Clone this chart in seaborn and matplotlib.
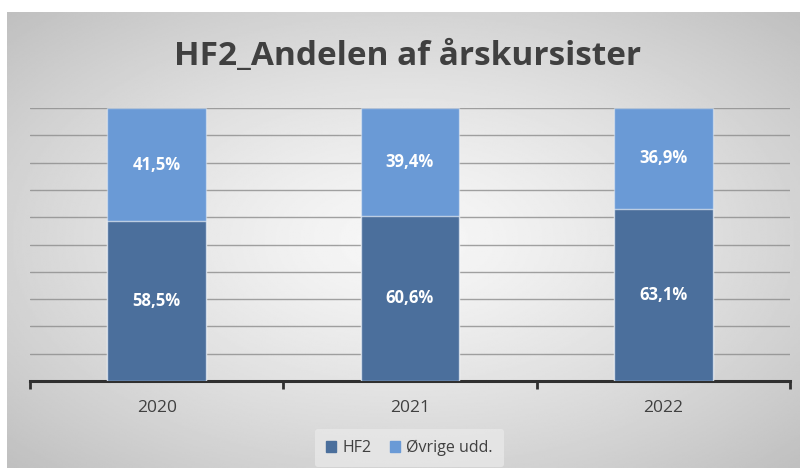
import numpy as np
import pandas as pd
import matplotlib
matplotlib.use("Agg")
import matplotlib.pyplot as plt
import seaborn as sns

# data
years = ["2020", "2021", "2022"]
hf2_share = [58.5, 60.6, 63.1]
other_share = [41.5, 39.4, 36.9]

title = "HF2_Andelen af årskursister"
dark_blue = "#4b6f9c"
light_blue = "#6a9ad6"
text_gray = "#404040"

df = pd.DataFrame({
    "År": years,
    "HF2": hf2_share,
    "Øvrige": other_share,
})
df["Total"] = df["HF2"] + df["Øvrige"]

sns.set_theme(style="white")
plt.rcParams["font.family"] = ["Open Sans", "DejaVu Sans"]

fig = plt.figure(figsize=(8, 4.68), dpi=100)

# radial grey background like the Excel chart area
bg = fig.add_axes([7 / 800, 0, 1 - 7 / 800, 1 - 12 / 468], zorder=-2)
yy, xx = np.mgrid[-1:1:300j, -1:1:500j]
r = np.sqrt(xx ** 2 + yy ** 2) / np.sqrt(2)
shade = 0.97 - 0.22 * r ** 1.3
bg.imshow(shade, cmap="gray", vmin=0, vmax=1, aspect="auto", extent=[0, 1, 0, 1])
bg.axis("off")

ax = fig.add_axes([30 / 800, 1 - 381 / 468, 760 / 800, 273 / 468])
ax.patch.set_alpha(0)

sns.barplot(data=df, x="År", y="Total", color=light_blue, width=0.39,
            saturation=1, ax=ax, zorder=3, edgecolor=(1, 1, 1, 0.4), linewidth=1)
sns.barplot(data=df, x="År", y="HF2", color=dark_blue, width=0.39,
            saturation=1, ax=ax, zorder=4, edgecolor=(1, 1, 1, 0.6), linewidth=1)

for i in range(len(years)):
    ax.text(i, hf2_share[i] / 2, f"{hf2_share[i]:.1f}%".replace(".", ","),
            ha="center", va="center", color="white", fontsize=12,
            fontweight="bold", zorder=5)
    ax.text(i, hf2_share[i] + other_share[i] / 2,
            f"{other_share[i]:.1f}%".replace(".", ","),
            ha="center", va="center", color="white", fontsize=12,
            fontweight="bold", zorder=5)

ax.set_ylim(0, 100)
ax.set_xlim(-0.5, 2.5)
ax.set_yticks(np.arange(10, 101, 10))
ax.yaxis.grid(True, color="#8c8c8c", linewidth=1, alpha=0.8, zorder=0)
ax.set_yticklabels([])
ax.tick_params(axis="y", length=0)
for side in ["left", "right", "top"]:
    ax.spines[side].set_visible(False)
ax.spines["bottom"].set_color("#303030")
ax.spines["bottom"].set_linewidth(2.2)

ax.set_xticks([0, 1, 2])
ax.set_xticklabels(years, color=text_gray, fontsize=12.5)
ax.set_xticks([-0.5, 0.5, 1.5, 2.5], minor=True)
ax.tick_params(axis="x", which="major", length=0, pad=14)
ax.tick_params(axis="x", which="minor", length=6, width=2, color="#303030",
               bottom=True)
ax.set_xlabel("")
ax.set_ylabel("")

fig.text(0.51, 1 - 56 / 468, title, ha="center", va="center",
         fontsize=24, fontweight="bold", color=text_gray)

handles = [plt.Rectangle((0, 0), 1, 1, color=dark_blue),
           plt.Rectangle((0, 0), 1, 1, color=light_blue)]
leg = fig.legend(handles, ["HF2", "Øvrige udd."], loc="center",
                 bbox_to_anchor=(0.512, 1 - 448 / 468), ncol=2, frameon=True,
                 fontsize=11.5, handlelength=0.6, handleheight=0.6,
                 handletextpad=0.4, columnspacing=1.2, borderpad=0.7)
leg.get_frame().set_facecolor("#e8e8e8")
leg.get_frame().set_edgecolor("none")
leg.get_frame().set_alpha(0.8)
for t in leg.get_texts():
    t.set_color(text_gray)

fig.savefig("out.png", dpi=100)
